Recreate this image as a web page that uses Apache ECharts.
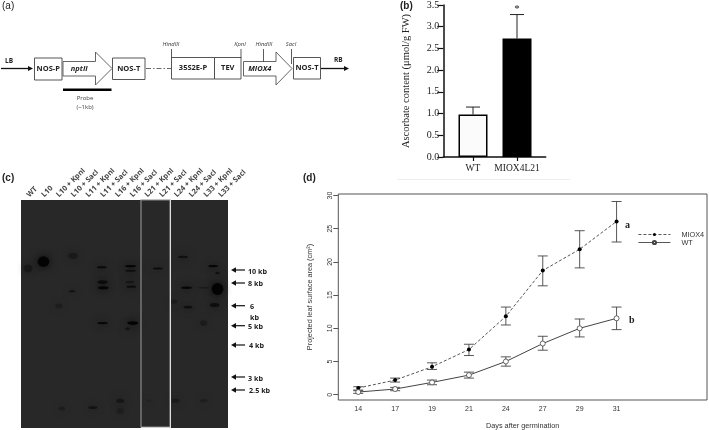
<!DOCTYPE html>
<html><head><meta charset="utf-8">
<script src="https://cdn.jsdelivr.net/npm/echarts@6/dist/echarts.min.js"></script>
<style>html,body{margin:0;padding:0;background:#fff}#c{width:709px;height:430px;filter:blur(0.35px)}</style>
</head><body><div id="c"></div>
<script>
// (b) ascorbate
const ascCategories = ['WT', 'MIOX4L21'];
const ascMeans = [0.98, 2.73];
const ascUpper = [1.15, 3.28];
const ascMarks = ['', '*'];
const ascTicks = ['0.0','0.5','1.0','1.5','2.0','2.5','3.0','3.5'];
// (d) leaf area
const days = ['14','17','19','21','24','27','29','31'];
const mioxMean = [1.0, 2.2, 4.2, 6.8, 11.8, 18.7, 21.9, 26.1];
const mioxLow  = [0.7, 1.9, 3.8, 5.9, 10.5, 16.4, 19.1, 23.0];
const mioxHigh = [1.2, 2.5, 4.8, 7.6, 13.2, 20.9, 24.7, 29.1];
const wtMean = [0.4, 0.85, 1.85, 2.95, 5.0, 7.7, 10.0, 11.5];
const wtLow  = [0.2, 0.6, 1.5, 2.5, 4.3, 6.7, 8.7, 9.8];
const wtHigh = [0.6, 1.1, 2.2, 3.4, 5.7, 8.8, 11.4, 13.2];
const leafTicks = [0, 5, 10, 15, 20, 25, 30];
// (c) blot: lane, migration (% of blot height), and signal
const laneNames = ['WT','L10','L10 + KpnI','L10 + SacI','L11 + KpnI','L11 + SacI','L16 + KpnI','L16 + SacI','L21 + KpnI','L21 + SacI','L24 + KpnI','L24 + SacI','L33 + KpnI','L33 + SacI'];
const bandLane = [0.0,1.05,3.05,3.0,5.0,5.05,5.1,5.05,6.95,6.95,6.9,7.0,7.1,6.75,8.8,10.5,10.75,10.85,9.9,12.55,12.85,11.9,12.65,11.9,4.4,6.25,6.25,2.3,10.0,11.9,8.2,2.1,12.85];
const bandMigration = [30,27,24.5,40,29.5,36,38.5,54,29,31,36,38,54,56.5,30,25,38.5,47,44.5,29,39,38.5,46,54,91,88,92.5,91.5,88,88,88,46.5,32];
const bandWidth = [10,13,11,7,11,11,12,12,13,12,10,11,12,5,11,11,12,10,7,11,13,13,11,8,10,9,8,7,9,9,6,8,5];
const bandHeight = [10,13,8,3,3,4.5,4,3,3,2.5,3,3,4.5,3,2.5,3,3,3.5,5,3,15,2,5,7,4,5,7,5,5,4,3,6,3];
const bandSignal = [0.35,1,0.35,0.55,0.8,0.8,1,0.95,1,0.7,0.45,0.75,1,0.6,0.8,0.65,0.95,0.7,0.3,1,1,0.4,0.7,0.3,0.55,0.45,0.25,0.25,0.35,0.25,0.15,0.25,0.6];
const sizeNames = ['10 kb','8 kb','6','kb','5 kb','4 kb','3 kb','2.5 kb'];
const panelNames = ['(a)','(b)','(c)','(d)'];

const G = [];
const rect = (x,y,w,h,fill,stroke,lw)=>G.push({type:'rect',z:100,shape:{x,y,width:w,height:h},style:{fill:fill||'none',stroke:stroke||'none',lineWidth:lw||1}});
const line = (x1,y1,x2,y2,stroke,lw,dash)=>G.push({type:'line',z:100,shape:{x1,y1,x2,y2},style:{stroke:stroke||'#222',lineWidth:lw||1,lineDash:dash||null}});
const poly = (pts,fill,stroke,lw)=>G.push({type:'polygon',z:100,shape:{points:pts},style:{fill:fill||'none',stroke:stroke||'none',lineWidth:lw||1}});
const text = (t,x,y,font,align,fill)=>G.push({type:'text',z:101,style:{text:t,x,y,font,fill:fill||'#222',textAlign:align||'left',textVerticalAlign:'middle'}});

// panel letters
const letterFont = '10px "Liberation Sans"';
text(panelNames[0],2,6,letterFont); text(panelNames[1],400,6,'bold 10px "Liberation Sans"');
text(panelNames[2],2,178,'bold 10px "Liberation Sans"'); text(panelNames[3],303,178,'bold 10px "Liberation Sans"');

// (a) construct diagram
const boxFont = 'bold 7.5px "Open Sans"';
const rFont = 'bold 6.5px "Open Sans"';
const arrowR = (x1,x2,y)=>{line(x1,y,x2-4,y,'#111',1.3);poly([[x2,y],[x2-5,y-2.6],[x2-5,y+2.6]],'#111');};
arrowR(1,33,68.5); text('LB',5,61,rFont);
arrowR(321,349,68.5); text('RB',334,60.5,rFont);
[[34.5,58,27.5,22,'NOS-P'],[112.5,58,32.5,21.5,'NOS-T'],[171.5,57.5,43,21.5,'35S2E-P'],[214.5,57.5,26.5,21.5,'TEV'],[293.5,57.5,27,21.5,'NOS-T']].forEach(b=>{
  rect(b[0],b[1],b[2],b[3],'#fff','#444',0.9);
  text(b[4],b[0]+b[2]/2,b[1]+b[3]/2,boxFont,'center');
});
const bigArrow=(x1,x2,x3,lbl)=>{poly([[x1,61.5],[x2,61.5],[x2,52],[x3,68.5],[x2,85],[x2,76],[x1,76]],'#fff','#555',0.9);text(lbl,(x1+x2)/2,68.5,'italic bold 7.5px "Open Sans"','center');};
bigArrow(63,95.5,112,'nptII');
bigArrow(243.5,276,292,'MIOX4');
line(146,68.5,171,68.5,'#444',0.8,[5,2,1.5,2]);
rect(63,88.5,48.5,2.4,'#000');
text('Probe',85,98,'6px "Open Sans"','center','#444');
text('(~1kb)',85,107,'6px "Open Sans"','center','#444');
[['HindIII',171,171.5,58],['KpnI',240,241,58],['HindIII',264,263.5,61.5],['SacI',291,291.5,64]].forEach(s=>{
  text(s[0],s[1],44,'italic 5.8px "Open Sans"','center','#333');
  line(s[2],49,s[2],s[3],'#333',0.8);
});

// (b) underline
line(397,179.5,570,179.5,'#eeeeee',1);

// (c) strip, arrows
rect(141,200,29,227,'none','#8a8a8a',1.2);
line(170.5,200,170.5,428,'#dddddd',1);
line(141,427.5,170.5,427.5,'#cccccc',1);
const arrowL=(x1,x2,y)=>{line(x1+4,y,x2,y,'#111',1.2);poly([[x1,y],[x1+5,y-2.8],[x1+5,y+2.8]],'#111');};
[270,283,305.7,325.7,345,377,390].forEach(y=>arrowL(231,245,y));
const sizeFont='bold 7.2px "Open Sans"';
text(sizeNames[0],248,272,sizeFont);text(sizeNames[1],248,284,sizeFont);text(sizeNames[2],250,307,sizeFont);
text(sizeNames[3],250,317.5,sizeFont);text(sizeNames[4],248,327,sizeFont);text(sizeNames[5],249,346,sizeFont);
text(sizeNames[6],248,379,sizeFont);text(sizeNames[7],249,391,sizeFont);

// (d) letters
text('a',625,225,'bold 10px "Liberation Serif"');
text('b',629,320.5,'bold 10px "Liberation Serif"');

const errBar = (lows,highs,capW,color,lw,marks)=>({
  renderItem(params,api){
    const i=params.dataIndex, x=api.value(0);
    const a=api.coord([x,api.value(1)]), b=api.coord([x,api.value(2)]);
    const st={stroke:color,lineWidth:lw,fill:'none'};
    const ch=[
      {type:'line',shape:{x1:a[0],y1:a[1],x2:b[0],y2:b[1]},style:st},
      {type:'line',shape:{x1:a[0]-capW,y1:b[1],x2:a[0]+capW,y2:b[1]},style:st}
    ];
    if(lows!==null) ch.push({type:'line',shape:{x1:a[0]-capW,y1:a[1],x2:a[0]+capW,y2:a[1]},style:st});
    if(marks&&marks[i]) ch.push({type:'text',style:{text:marks[i],x:b[0],y:b[1]-5,fill:'#222',font:'11px "Liberation Serif"',textAlign:'center',textVerticalAlign:'middle'}});
    return {type:'group',children:ch};
  }
});
const idx = a=>a.map((_,i)=>i);

const option = {
  backgroundColor:'#fff', animation:false,
  textStyle:{fontFamily:'"Liberation Sans"'},
  grid:[
    {left:443.3,top:4.7,width:102.4,height:152.3,show:false},
    {left:21,top:200,width:207,height:228,show:true,backgroundColor:'#282828',borderWidth:0},
    {left:338.3,top:194,width:368.7,height:206,show:true,backgroundColor:'transparent',borderColor:'#555',borderWidth:1}
  ],
  xAxis:[
    {gridIndex:0,type:'value',min:-0.675,max:1.652,splitLine:{show:false},
     axisLine:{onZero:false,lineStyle:{color:'#111',width:1.5}},
     axisTick:{customValues:idx(ascCategories),length:4,lineStyle:{color:'#111',width:1.2}},
     axisLabel:{customValues:idx(ascCategories),formatter:v=>ascCategories[v],color:'#222',fontFamily:'"Liberation Serif"',fontSize:9.5,margin:6}},
    {gridIndex:1,type:'value',position:'top',min:-0.475,max:13.56,splitLine:{show:false},
     axisLine:{show:false},axisTick:{show:false},
     axisLabel:{customValues:idx(laneNames),formatter:v=>laneNames[v],rotate:45,color:'#444',fontFamily:'"Open Sans"',fontWeight:'bold',fontSize:7.4,margin:4}},
    {gridIndex:2,type:'value',min:-0.54,max:9.45,splitLine:{show:false},
     axisLine:{show:false,onZero:false},axisTick:{show:false},
     axisLabel:{customValues:idx(days),formatter:v=>days[v],color:'#333',fontSize:7,margin:6},
     name:'Days after germination',nameLocation:'middle',nameGap:22,nameTextStyle:{color:'#333',fontSize:7.3}}
  ],
  yAxis:[
    {gridIndex:0,type:'value',min:0,max:3.5,interval:0.5,splitLine:{show:false},
     axisLine:{show:true,onZero:false,lineStyle:{color:'#111',width:1.5}},
     axisTick:{show:true,length:6,lineStyle:{color:'#111',width:1.2}},
     axisLabel:{formatter:v=>ascTicks[Math.round(v*2)],color:'#222',fontFamily:'"Liberation Serif"',fontSize:10,margin:4},
     name:'Ascorbate content (μmol/g FW)',nameLocation:'middle',nameRotate:90,nameGap:32,
     nameTextStyle:{color:'#222',fontFamily:'"Liberation Serif"',fontSize:10.5}},
    {gridIndex:1,type:'value',inverse:true,min:0,max:100,show:false,axisLine:{onZero:false}},
    {gridIndex:2,type:'value',min:-0.8,max:30.23,splitLine:{show:false},
     axisLine:{show:false,onZero:false},
     axisTick:{show:true,customValues:leafTicks,length:5,lineStyle:{color:'#555'}},
     axisLabel:{customValues:leafTicks,rotate:90,color:'#333',fontSize:7,margin:5},
     name:'Projected leaf surface area (cm²)',nameLocation:'middle',nameRotate:90,nameGap:25,
     nameTextStyle:{color:'#333',fontSize:7.3}}
  ],
  legend:{left:633,top:226,orient:'vertical',itemWidth:32,itemHeight:4,itemGap:1,
    lineStyle:{width:0.9},
    data:['MIOX4','WT'],textStyle:{color:'#333',fontSize:7.3,padding:[0,0,0,6]},selectedMode:false},
  graphic:G,
  series:[
    {type:'bar',xAxisIndex:0,yAxisIndex:0,barWidth:29,
     data:ascMeans.map((v,i)=>({value:[i,v],itemStyle:{color:i?'#000':'#fbfbfb',borderColor:'#000',borderWidth:1.5}}))},
    Object.assign({type:'custom',xAxisIndex:0,yAxisIndex:0,z:1,data:ascMeans.map((v,i)=>[i,v,ascUpper[i]])},errBar(null,null,7,'#222',1,ascMarks)),
    {type:'scatter',xAxisIndex:1,yAxisIndex:1,symbol:'circle',clip:true,
     data:bandLane.map((l,i)=>({
       value:[l,bandMigration[i]],
       symbolSize:[bandWidth[i]*0.9,bandHeight[i]*0.8],
       itemStyle:{color:'#000',opacity:bandSignal[i]*0.85,shadowColor:'#000',shadowBlur:8}
     }))},
    Object.assign({type:'custom',xAxisIndex:2,yAxisIndex:2,z:1,data:mioxMean.map((v,i)=>[i,mioxLow[i],mioxHigh[i]])},errBar(1,1,5,'#444',0.9)),
    Object.assign({type:'custom',xAxisIndex:2,yAxisIndex:2,z:1,data:wtMean.map((v,i)=>[i,wtLow[i],wtHigh[i]])},errBar(1,1,5,'#444',0.9)),
    {type:'line',name:'MIOX4',xAxisIndex:2,yAxisIndex:2,z:3,symbol:'circle',symbolSize:4,
     data:mioxMean.map((v,i)=>[i,v]),lineStyle:{color:'#444',width:0.9,type:[3,2]},itemStyle:{color:'#000'}},
    {type:'line',name:'WT',xAxisIndex:2,yAxisIndex:2,z:3,symbol:'circle',symbolSize:5,
     data:wtMean.map((v,i)=>[i,v]),lineStyle:{color:'#444',width:1},itemStyle:{color:'#fff',borderColor:'#444',borderWidth:0.8}}
  ]
};
echarts.init(document.getElementById('c'),null,{renderer:'canvas'}).setOption(option);
</script></body></html>
